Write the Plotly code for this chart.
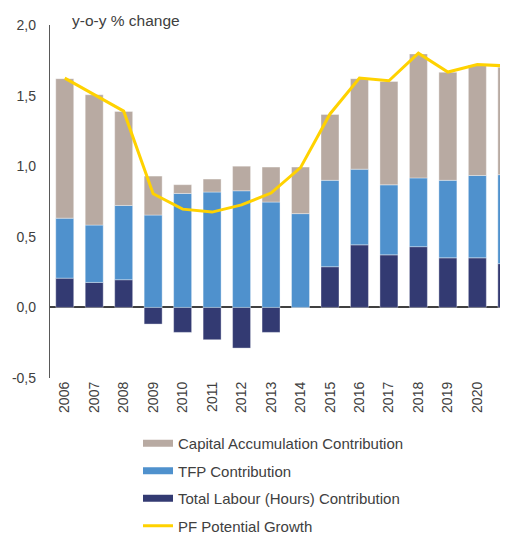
import plotly.graph_objects as go

years = ["2006", "2007", "2008", "2009", "2010", "2011", "2012", "2013",
         "2014", "2015", "2016", "2017", "2018", "2019", "2020", "2021"]
labour = [0.207, 0.177, 0.196, -0.118, -0.177, -0.229, -0.288, -0.177,
          0.0, 0.288, 0.443, 0.372, 0.430, 0.351, 0.351, 0.310]
tfp = [0.425, 0.406, 0.526, 0.654, 0.807, 0.817, 0.826, 0.746,
       0.664, 0.612, 0.536, 0.496, 0.487, 0.549, 0.583, 0.630]
capital = [0.988, 0.923, 0.666, 0.276, 0.062, 0.092, 0.174, 0.248,
           0.330, 0.466, 0.641, 0.732, 0.878, 0.765, 0.783, 0.760]
potential = [1.624, 1.506, 1.390, 0.805, 0.696, 0.675, 0.726, 0.810,
             0.990, 1.370, 1.625, 1.605, 1.800, 1.667, 1.720, 1.710]

y_tickvals = [-0.5, 0.0, 0.5, 1.0, 1.5, 2.0]
y_ticktext = ["-0,5", "0,0", "0,5", "1,0", "1,5", "2,0"]

names = ["Capital Accumulation Contribution", "TFP Contribution",
         "Total Labour (Hours) Contribution", "PF Potential Growth"]
C_CAP = "#B8AAA2"
C_TFP = "#4F91CD"
C_LAB = "#333A72"
C_POT = "#FFD200"
TXT = "#404040"
FONT = "Liberation Sans, Arial, sans-serif"

W, H = 500, 525  # page adds an 8px body margin

fig = go.Figure()
edge = dict(width=0.6, color="rgba(255,255,255,0.6)")
fig.add_trace(go.Bar(x=years, y=labour, marker=dict(color=C_LAB, line=edge),
                     showlegend=False, name=names[2]))
fig.add_trace(go.Bar(x=years, y=tfp, marker=dict(color=C_TFP, line=edge),
                     showlegend=False, name=names[1]))
fig.add_trace(go.Bar(x=years, y=capital, marker=dict(color=C_CAP, line=edge),
                     showlegend=False, name=names[0]))
fig.add_trace(go.Scatter(x=years, y=potential, mode="lines",
                         line=dict(color=C_POT, width=3), showlegend=False, name=names[3]))

# legend entries (wide thin swatches)
for i, (nm, col, w) in enumerate(zip(names, [C_CAP, C_TFP, C_LAB, C_POT], [7, 7, 7, 3])):
    fig.add_trace(go.Scatter(x=[None], y=[None], mode="lines", name=nm,
                             line=dict(color=col, width=w), legendgroup=f"g{i}",
                             showlegend=True))

fig.update_layout(
    width=W, height=H,
    margin=dict(l=42, r=0, t=17, b=155, autoexpand=False),
    paper_bgcolor="white", plot_bgcolor="white",
    barmode="relative", bargap=0.39,
    separators=",.",
    font=dict(family=FONT, size=14, color=TXT),
    showlegend=True,
    legend=dict(xref="container", yref="container", x=130 / W, y=1 - 419 / H,
                xanchor="left", yanchor="top", traceorder="grouped",
                tracegroupgap=5, font=dict(size=15, color=TXT, family=FONT),
                bgcolor="rgba(0,0,0,0)"),
    annotations=[dict(text="y-o-y % change", xref="paper", yref="paper",
                      x=(70 - 50) / 458, y=(378 - 20) / 353, xanchor="left",
                      yanchor="middle", showarrow=False,
                      font=dict(size=15.5, color=TXT, family=FONT))],
)
fig.update_xaxes(type="category", range=[-0.5, 15.04], tickmode="array",
                 tickvals=years, ticktext=years, tickangle=-90,
                 showgrid=False, showline=False, ticks="",
                 ticklabeloverflow="allow", tickfont=dict(size=14, color=TXT))
fig.update_yaxes(range=[-0.5, 2.0], tickmode="array", tickvals=y_tickvals,
                 ticktext=y_ticktext, showgrid=False, showline=True,
                 linecolor="#595959", linewidth=1.3, ticks="",
                 zeroline=True, zerolinecolor="#404040", zerolinewidth=1.5,
                 ticklabelstandoff=10, tickfont=dict(size=14, color=TXT))

fig.write_html("out.html")
